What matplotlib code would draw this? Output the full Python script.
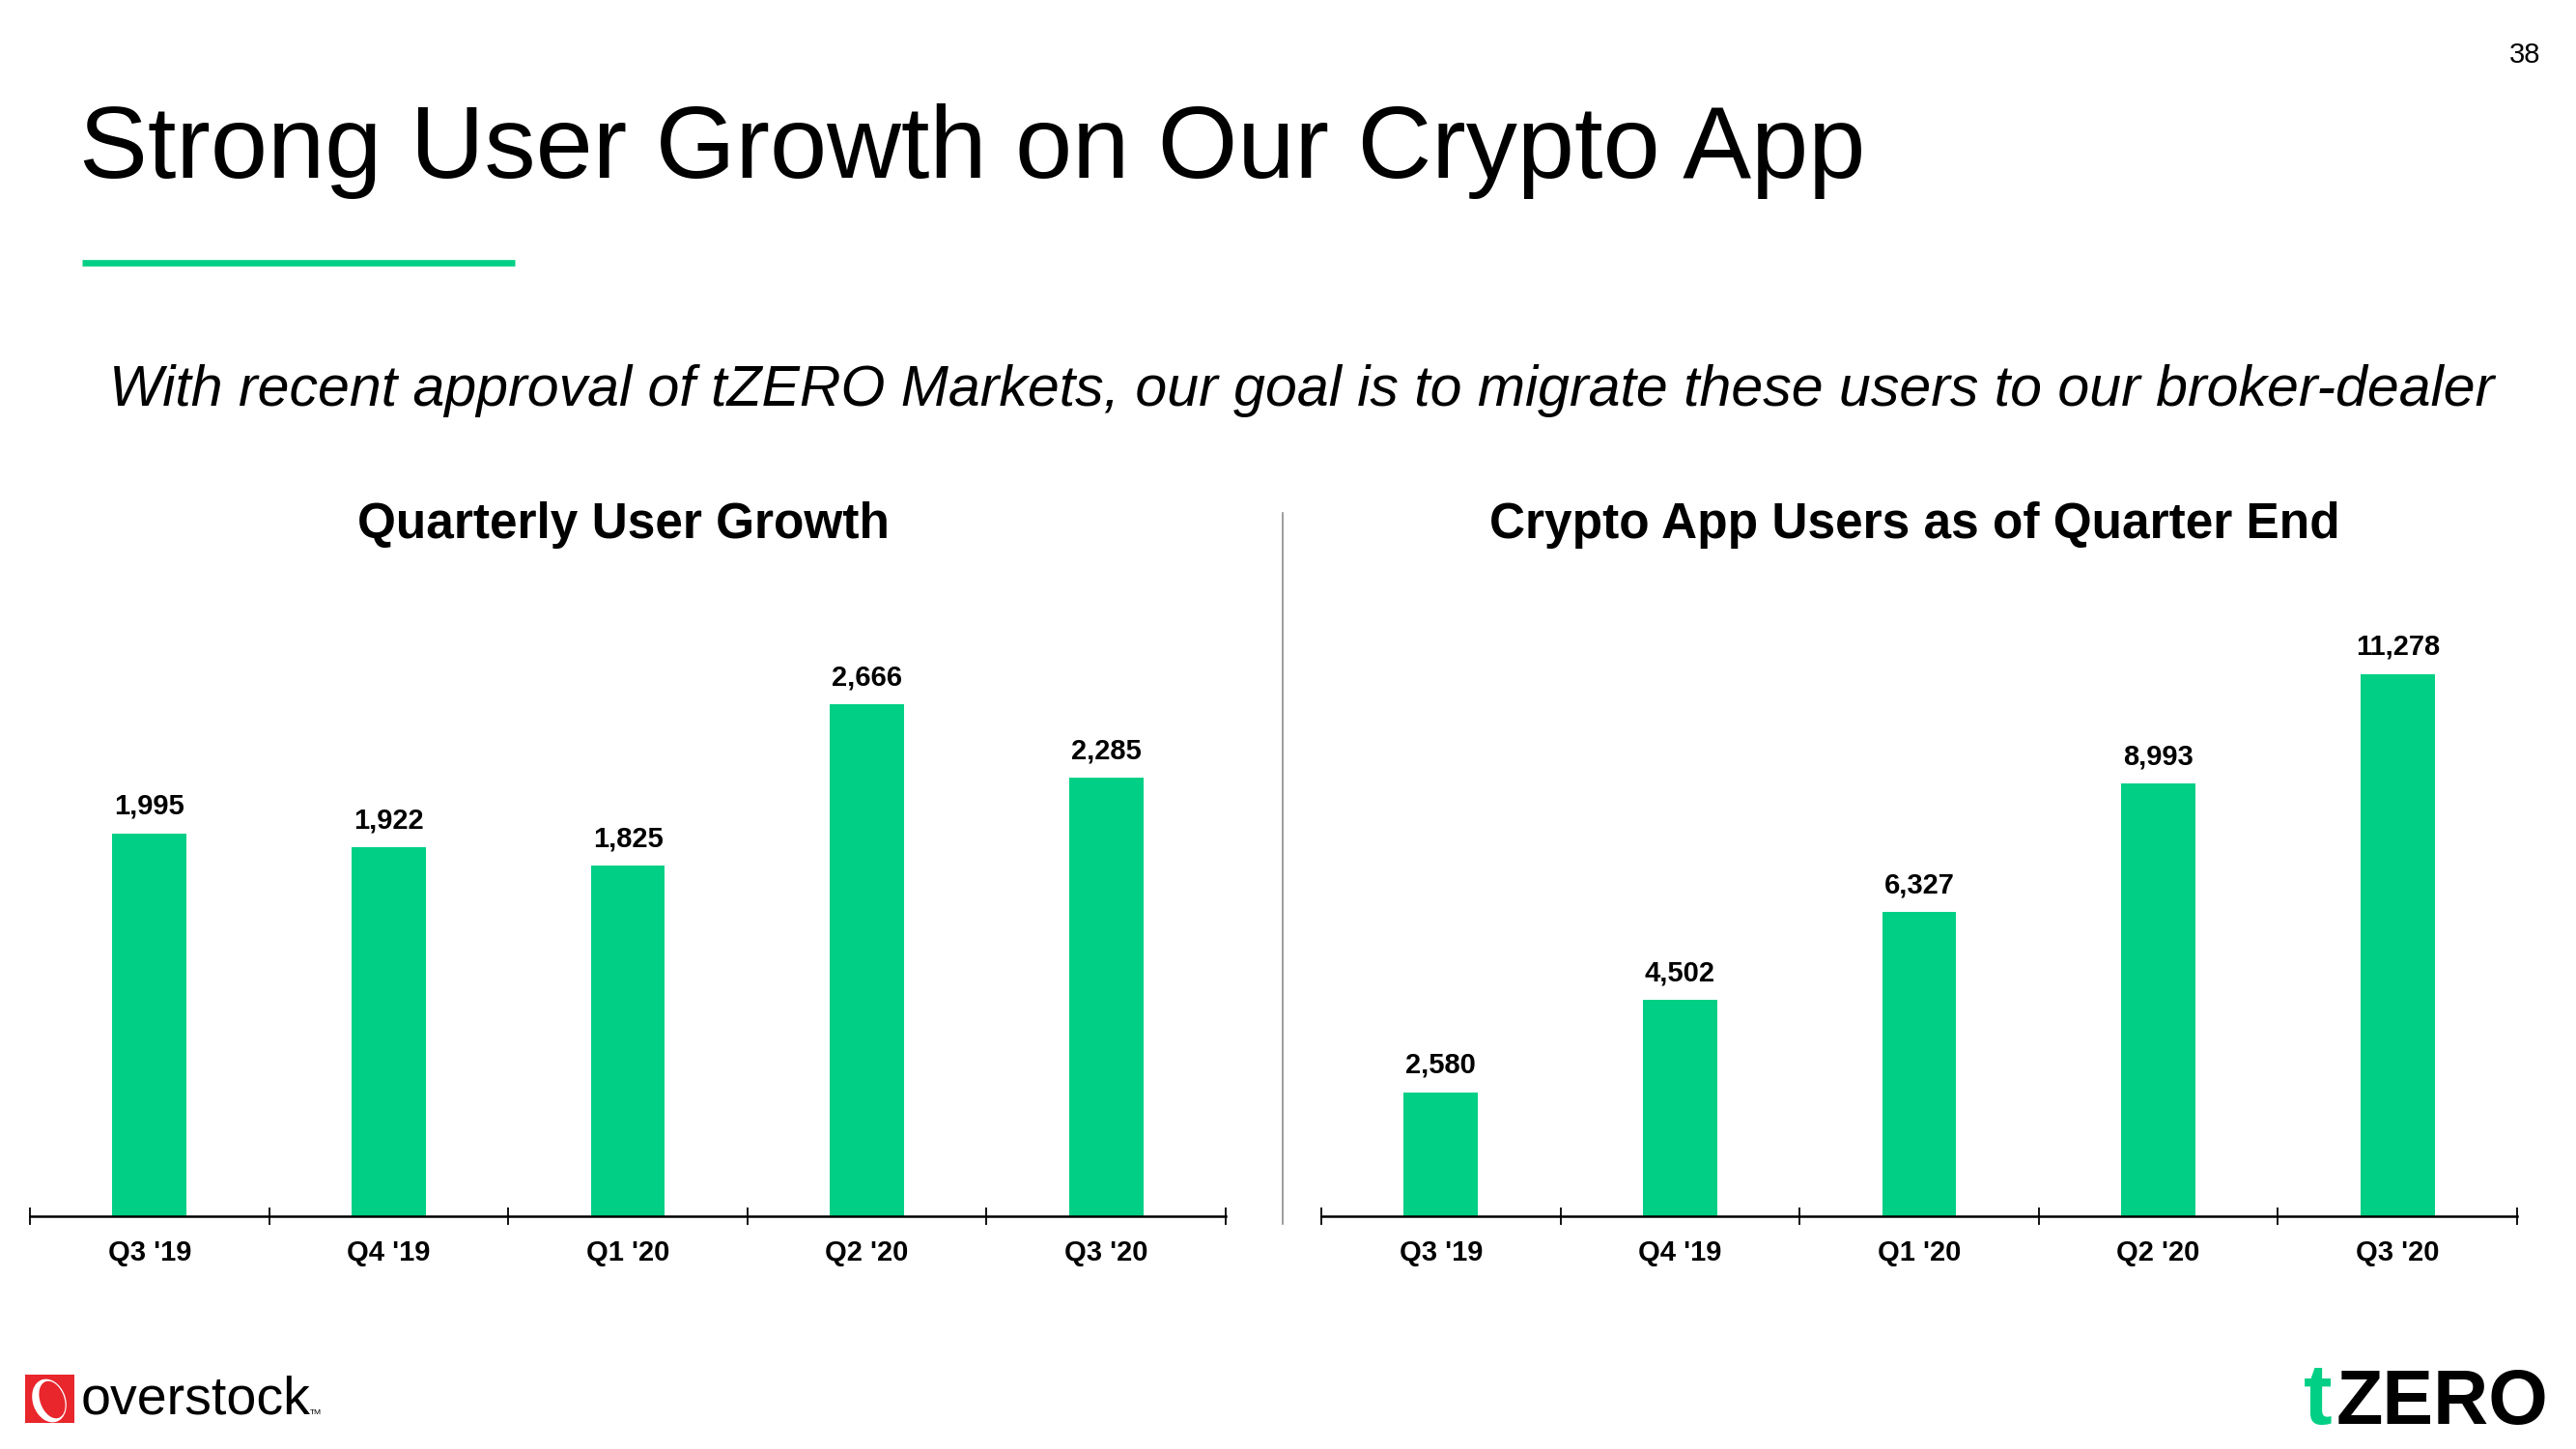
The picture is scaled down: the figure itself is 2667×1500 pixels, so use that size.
import matplotlib
matplotlib.use("Agg")
import matplotlib.pyplot as plt
from matplotlib import font_manager
from matplotlib.patches import Rectangle, Ellipse

# Datos
trimestres = ["Q3 '19", "Q4 '19", "Q1 '20", "Q2 '20", "Q3 '20"]
crecimiento = [1995, 1922, 1825, 2666, 2285]
usuarios = [2580, 4502, 6327, 8993, 11278]

titulo = "Strong User Growth on Our Crypto App"
subtitulo = ("With recent approval of tZERO Markets, our goal is to migrate "
             "these users to our broker-dealer")
titulo_izq = "Quarterly User Growth"
titulo_der = "Crypto App Users as of Quarter End"

VERDE = "#00CF85"
W, H = 2667, 1500


def familia(nombres):
    for n in nombres:
        try:
            font_manager.findfont(n, fallback_to_default=False)
            return n
        except Exception:
            pass
    return "DejaVu Sans"


fuente = familia(["Liberation Sans", "Arial"])

fig = plt.figure(figsize=(W / 100, H / 100), dpi=100)

# Capa de fondo en pixeles para textos y logos
bg = fig.add_axes([0, 0, 1, 1])
bg.set_xlim(0, W)
bg.set_ylim(H, 0)
bg.axis("off")

bg.text(82, 184, titulo, fontsize=76.5, family=fuente, va="baseline", ha="left")
bg.plot([85, 533], [272, 272], color=VERDE, lw=4.8, solid_capstyle="butt")
bg.text(1348, 405, subtitulo, fontsize=42.5, family=fuente, style="italic",
        va="center", ha="center")
bg.text(2614, 57, "38", fontsize=21, family=fuente, va="center", ha="center")
bg.plot([1328, 1328], [531, 1267], color="#8c8c8c", lw=1.2)

# Logo overstock
bg.add_patch(Rectangle((26, 1423), 51, 50, color="#e8262c", lw=0))
bg.add_patch(Ellipse((51, 1450), 34, 46, angle=-20, color="white", lw=0))
bg.add_patch(Ellipse((54, 1449), 25, 40, angle=-20, color="#e8262c", lw=0))
bg.text(84, 1464, "overstock", fontsize=40, family=fuente, va="baseline",
        ha="left")
bg.text(321, 1464, "TM", fontsize=6, family=fuente, va="baseline", ha="left")

# Logo tZERO
bg.text(2414, 1474, "t", fontsize=64, family=fuente, weight="bold",
        color=VERDE, va="baseline", ha="right")
bg.text(2419, 1474, "ZERO", fontsize=57, family=fuente, weight="bold",
        va="baseline", ha="left")

paneles = [
    (31, crecimiento, 3518, titulo_izq, 646),
    (1368, usuarios, 14045, titulo_der, 1982),
]
for x0, valores, ymax, tit, xt in paneles:
    ax = fig.add_axes([x0 / W, (H - 1259) / H, 1238 / W, 699 / H])
    pos = range(len(trimestres))
    barras = ax.bar(pos, valores, width=0.31, color=VERDE)
    for b, v in zip(barras, valores):
        ax.annotate(f"{v:,}", (b.get_x() + b.get_width() / 2, v),
                    xytext=(0, 10), textcoords="offset points",
                    ha="center", va="bottom", fontsize=21, family=fuente,
                    weight="bold")
    ax.set_xlim(-0.5, len(trimestres) - 0.5)
    ax.set_ylim(0, ymax)
    ax.set_xticks([i - 0.5 for i in range(len(trimestres) + 1)])
    ax.set_xticklabels([])
    ax.set_xticks(list(pos), minor=True)
    ax.set_xticklabels(trimestres, minor=True, fontsize=21, family=fuente,
                       weight="bold")
    ax.tick_params(axis="x", which="major", direction="inout", length=13,
                   width=1.3)
    ax.tick_params(axis="x", which="minor", length=0, pad=17)
    ax.set_yticks([])
    for s in ["top", "left", "right"]:
        ax.spines[s].set_visible(False)
    ax.spines["bottom"].set_linewidth(1.8)
    ax.patch.set_alpha(0)
    bg.text(xt, 544, tit, fontsize=37, family=fuente, weight="bold",
            va="center", ha="center")

fig.savefig("out.png", dpi=100)
plt.close()
